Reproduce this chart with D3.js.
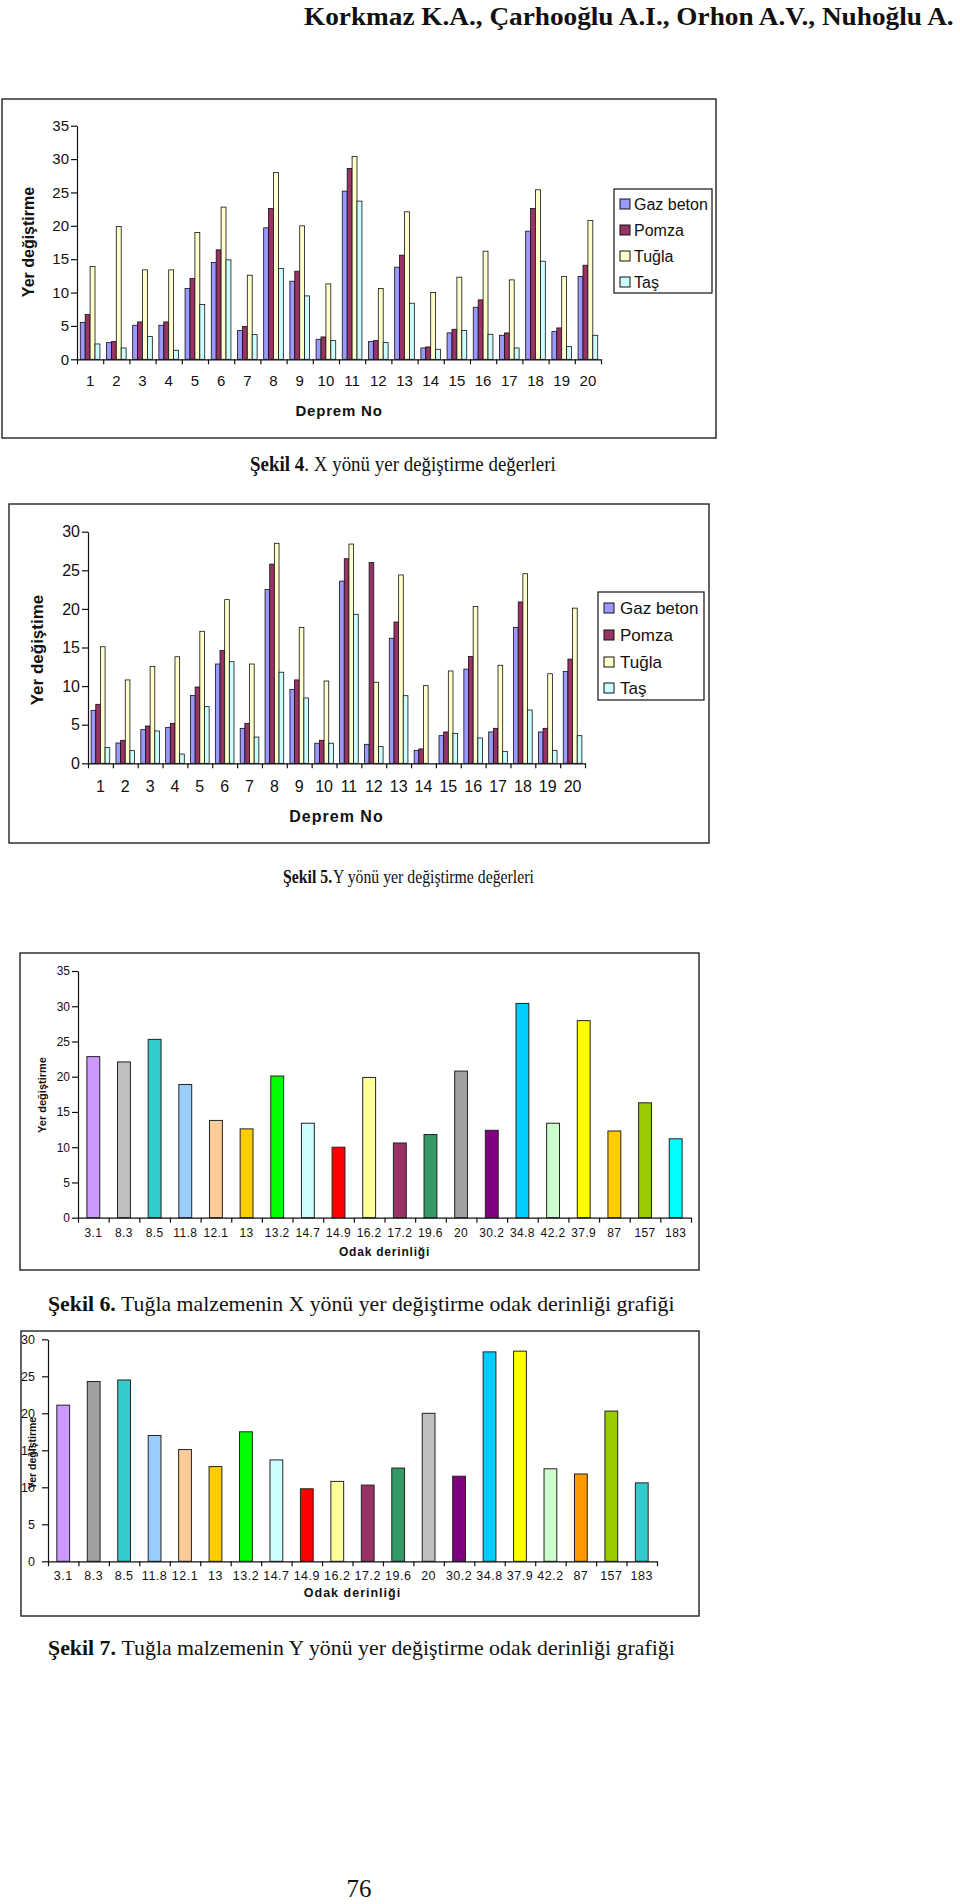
<!DOCTYPE html>
<html><head><meta charset="utf-8">
<script src="https://cdn.jsdelivr.net/npm/d3@7"></script>
<style>body{margin:0;background:#fff} svg{display:block}</style>
</head><body>
<svg id="page" width="960" height="1904"></svg>
<script>
// ---------- DATA ----------
const depremNo = ["1","2","3","4","5","6","7","8","9","10","11","12","13","14","15","16","17","18","19","20"];
const seriesNames = ["Gaz beton","Pomza","Tuğla","Taş"];
const seriesColors = ["#9999FF","#993366","#FFFFCC","#CCFFFF"];

// Şekil 4 - X direction
const xGazBeton = [5.5,2.5,5.1,5.1,10.6,14.5,4.3,19.7,11.7,3.0,25.2,2.65,13.8,1.7,3.95,7.8,3.6,19.2,4.15,12.4];
const xPomza    = [6.7,2.65,5.6,5.6,12.1,16.4,4.9,22.6,13.2,3.35,28.6,2.8,15.6,1.85,4.5,8.9,3.95,22.6,4.7,14.1];
const xTugla    = [13.9,19.9,13.4,13.4,19.0,22.8,12.6,28.0,20.0,11.3,30.4,10.6,22.1,10.0,12.3,16.2,11.9,25.4,12.4,20.8];
const xTas      = [2.3,1.7,3.4,1.35,8.2,14.9,3.7,13.6,9.5,2.8,23.7,2.5,8.4,1.5,4.3,3.75,1.7,14.7,1.9,3.6];

// Şekil 5 - Y direction
const yGazBeton = [6.86,2.63,4.36,4.66,8.8,12.86,4.53,22.5,9.58,2.6,23.6,2.46,16.2,1.68,3.58,12.2,4.06,17.6,4.06,11.9];
const yPomza    = [7.64,2.98,4.83,5.18,9.88,14.6,5.18,25.8,10.8,2.98,26.5,26.0,18.3,1.86,4.06,13.85,4.53,20.9,4.53,13.5];
const yTugla    = [15.1,10.8,12.56,13.8,17.1,21.2,12.86,28.5,17.6,10.66,28.4,10.5,24.4,10.06,11.96,20.3,12.7,24.56,11.6,20.1];
const yTas      = [2.03,1.64,4.19,1.2,7.34,13.16,3.4,11.8,8.46,2.6,19.3,2.16,8.76,0,3.88,3.28,1.55,6.9,1.68,3.58];

// Şekil 6 - Tuğla X vs focal depth
const depthX = ["3.1","8.3","8.5","11.8","12.1","13","13.2","14.7","14.9","16.2","17.2","19.6","20","30.2","34.8","42.2","37.9","87","157","183"];
const tuglaX = [22.85,22.1,25.3,18.9,13.8,12.6,20.1,13.4,10.0,19.9,10.6,11.8,20.8,12.4,30.4,13.4,27.96,12.3,16.3,11.2];
const colorsX = ["#CC99FF","#C0C0C0","#33CCCC","#99CCFF","#FFCC99","#FFCC00","#00FF00","#CCFFFF","#FF0000","#FFFF99","#993366","#339966","#A0A0A0","#800080","#00CCFF","#CCFFCC","#FFFF00","#FFCC00","#99CC00","#00FFFF"];

// Şekil 7 - Tuğla Y vs focal depth
const depthY = ["3.1","8.3","8.5","11.8","12.1","13","13.2","14.7","14.9","16.2","17.2","19.6","20","30.2","34.8","37.9","42.2","87","157","183"];
const tuglaY = [21.1,24.3,24.5,17.0,15.1,12.8,17.5,13.7,9.8,10.8,10.3,12.6,20.0,11.5,28.3,28.4,12.5,11.8,20.3,10.6];
const colorsY = ["#CC99FF","#A0A0A0","#33CCCC","#99CCFF","#FFCC99","#FFCC00","#00FF00","#CCFFFF","#FF0000","#FFFF99","#993366","#339966","#C0C0C0","#800080","#00CCFF","#FFFF00","#CCFFCC","#FF9900","#99CC00","#33CCCC"];

const ticks35 = [0,5,10,15,20,25,30,35];
const ticks30 = [0,5,10,15,20,25,30];

// ---------- DRAW ----------
const svg = d3.select("#page");
svg.append("rect").attr("width",960).attr("height",1904).attr("fill","#fff");
const SANS = "'Liberation Sans', Arial, sans-serif";
const SERIF = "'Liberation Serif', 'Times New Roman', serif";

function frame(x0,y0,x1,y1){
  svg.append("rect").attr("x",x0).attr("y",y0).attr("width",x1-x0).attr("height",y1-y0)
    .attr("fill","none").attr("stroke","#222").attr("stroke-width",1.4);
}

function axes(g, cfg, xBand, y, cats, labelOf){
  const ya = g.append("g").attr("transform",`translate(${cfg.left},0)`)
    .call(d3.axisLeft(y).tickValues(cfg.yTicks).tickSize(6).tickSizeOuter(0).tickPadding(cfg.yPad||2));
  ya.selectAll("text").attr("font-family",SANS).attr("font-size",cfg.tickFont).attr("fill","#111");
  const xb = d3.scaleLinear().domain([0,cats.length]).range([cfg.left,cfg.right]);
  g.append("g").attr("transform",`translate(0,${cfg.bottom})`)
    .call(d3.axisBottom(xb).tickValues(d3.range(cats.length+1)).tickFormat("").tickSize(5).tickSizeOuter(0));
  const xl = g.append("g").attr("transform",`translate(0,${cfg.bottom})`)
    .call(d3.axisBottom(xBand).tickSize(0).tickPadding(cfg.xPad).tickFormat(labelOf || (d=>d)));
  xl.select(".domain").remove();
  xl.selectAll("text").attr("font-family",SANS).attr("font-size",cfg.xFont).attr("fill","#111")
    .attr("letter-spacing",cfg.xLS||0);
  g.selectAll(".domain,.tick line").attr("stroke","#111").attr("stroke-width",1.2);
  g.append("text").attr("x",(cfg.left+cfg.right)/2).attr("y",cfg.xTitleY)
    .attr("text-anchor","middle").attr("font-family",SANS).attr("font-weight","bold")
    .attr("font-size",cfg.xTitleFont).attr("letter-spacing",cfg.xTitleLS||0).attr("fill","#111").text(cfg.xTitle);
  g.append("text").attr("transform",`translate(${cfg.yTitleX},${cfg.yTitleY}) rotate(-90)`)
    .attr("text-anchor","middle").attr("dominant-baseline","central").attr("font-family",SANS).attr("font-weight","bold")
    .attr("font-size",cfg.yTitleFont).attr("fill","#111").text(cfg.yTitle);
}

function grouped(cfg, series){
  const g = svg.append("g");
  const x0 = d3.scaleBand().domain(depremNo).range([cfg.left,cfg.right]).paddingInner(0.25).paddingOuter(0.125);
  const x1 = d3.scaleBand().domain(seriesNames).range([0,x0.bandwidth()]);
  const y = d3.scaleLinear().domain([0,cfg.yMax]).range([cfg.bottom,cfg.top]);
  depremNo.forEach((c,i)=>{
    seriesNames.forEach((s,j)=>{
      const v = series[j][i];
      if(v<=0) return;
      g.append("rect").attr("x",x0(c)+x1(s)).attr("y",y(v)).attr("width",x1.bandwidth()).attr("height",y(0)-y(v))
        .attr("fill",seriesColors[j]).attr("stroke","#111").attr("stroke-width",0.8);
    });
  });
  axes(g,cfg,x0,y,depremNo);
  const L = cfg.legend;
  g.append("rect").attr("x",L.x0).attr("y",L.y0).attr("width",L.x1-L.x0).attr("height",L.y1-L.y0)
    .attr("fill","#fff").attr("stroke","#111").attr("stroke-width",1.2);
  seriesNames.forEach((s,j)=>{
    const cy = L.rows[j];
    g.append("rect").attr("x",L.sx).attr("y",cy-L.ss/2).attr("width",L.ss).attr("height",L.ss)
      .attr("fill",seriesColors[j]).attr("stroke","#111").attr("stroke-width",1);
    g.append("text").attr("x",L.tx).attr("y",cy).attr("dominant-baseline","central")
      .attr("font-family",SANS).attr("font-size",L.font).attr("fill","#111").text(s);
  });
}

function single(cfg, cats, vals, cols){
  const g = svg.append("g");
  const keys = cats.map((c,i)=>i+"|"+c);
  const x = d3.scaleBand().domain(keys).range([cfg.left,cfg.right]).paddingInner(0.58).paddingOuter(0.29);
  const y = d3.scaleLinear().domain([0,cfg.yMax]).range([cfg.bottom,cfg.top]);
  keys.forEach((k,i)=>{
    g.append("rect").attr("x",x(k)).attr("y",y(vals[i])).attr("width",x.bandwidth()).attr("height",y(0)-y(vals[i]))
      .attr("fill",cols[i]).attr("stroke","#222").attr("stroke-width",1);
  });
  axes(g,cfg,x,y,cats,k=>k.split("|")[1]);
}

function caption(x,y,bold,rest,size,len,gap){
  const g = svg.append("g");
  const b = g.append("text").attr("x",0).attr("y",0).attr("font-family",SERIF).attr("font-weight","bold")
    .attr("font-size",size).attr("fill","#111").text(bold);
  const wb = b.node().getComputedTextLength();
  const r = g.append("text").attr("x",wb+gap).attr("y",0).attr("font-family",SERIF)
    .attr("font-size",size).attr("fill","#111").text(rest);
  const total = wb+gap+r.node().getComputedTextLength();
  const s = len/total;
  g.attr("transform",`translate(${x},${y}) scale(${s},1)`);
}

// Header
(function(){
  const t = svg.append("text").attr("x",0).attr("y",0).attr("font-family",SERIF).attr("font-weight","bold")
    .attr("font-size",25).attr("fill","#111").text("Korkmaz K.A., Çarhooğlu A.I., Orhon A.V., Nuhoğlu A.");
  const w = t.node().getComputedTextLength();
  t.attr("transform",`translate(304,25) scale(${650/w},1)`);
})();

// Chart 1
frame(2,99,716,438);
grouped({left:77,right:601,top:125.7,bottom:359.3,yMax:35,yTicks:ticks35,tickFont:15,xFont:15,xPad:16,
  xTitle:"Deprem No",xTitleY:416,xTitleFont:15,xTitleLS:0.8,yTitle:"Yer değiştirme",yTitleX:28,yTitleY:242,yTitleFont:16,
  legend:{x0:614,y0:189,x1:712,y1:293,rows:[204,230,256,282],sx:620,ss:10,tx:634,font:16}},
  [xGazBeton,xPomza,xTugla,xTas]);
caption(250,471,"Şekil 4",". X yönü yer değiştirme değerleri",20,306,0);

// Chart 2
frame(9,504,709,843);
grouped({left:88,right:585,top:531.7,bottom:763.3,yMax:30,yTicks:ticks30,tickFont:16,xFont:16,xPad:17,
  xTitle:"Deprem No",xTitleY:822,xTitleFont:16,xTitleLS:1,yTitle:"Yer değiştime",yTitleX:37,yTitleY:650,yTitleFont:17,
  legend:{x0:598,y0:592,x1:704,y1:700,rows:[608,635,662,688],sx:604,ss:10,tx:620,font:17}},
  [yGazBeton,yPomza,yTugla,yTas]);
caption(283,883,"Şekil 5.","Y yönü yer değiştirme değerleri",19,251,1);

// Chart 3
frame(20,953,699,1270);
single({left:78,right:691,top:971,bottom:1217.7,yMax:35,yTicks:ticks35,tickFont:12,xFont:12,xPad:11,xLS:0.4,
  xTitle:"Odak derinliği",xTitleY:1256,xTitleFont:12,xTitleLS:0.8,yTitle:"Yer değiştirme",yTitleX:42,yTitleY:1095,yTitleFont:11},
  depthX,tuglaX,colorsX);
caption(48,1311,"Şekil 6.","Tuğla malzemenin X yönü yer değiştirme odak derinliği grafiği",21,627,5);

// Chart 4
frame(21,1331,699,1616);
single({left:48,right:657,top:1339.3,bottom:1561.3,yMax:30,yTicks:ticks30,tickFont:12.5,yPad:7,xFont:12.5,xPad:10,xLS:0.5,
  xTitle:"Odak derinliği",xTitleY:1597,xTitleFont:12.5,xTitleLS:1,yTitle:"Yer değiştirme",yTitleX:32,yTitleY:1453,yTitleFont:10.5},
  depthY,tuglaY,colorsY);
caption(48,1655,"Şekil 7.","Tuğla malzemenin Y yönü yer değiştirme odak derinliği grafiği",20,627,5);

// page number
svg.append("text").attr("x",359).attr("y",1897).attr("text-anchor","middle").attr("font-family",SERIF)
  .attr("font-size",25).attr("fill","#111").text("76");
</script>
</body></html>
